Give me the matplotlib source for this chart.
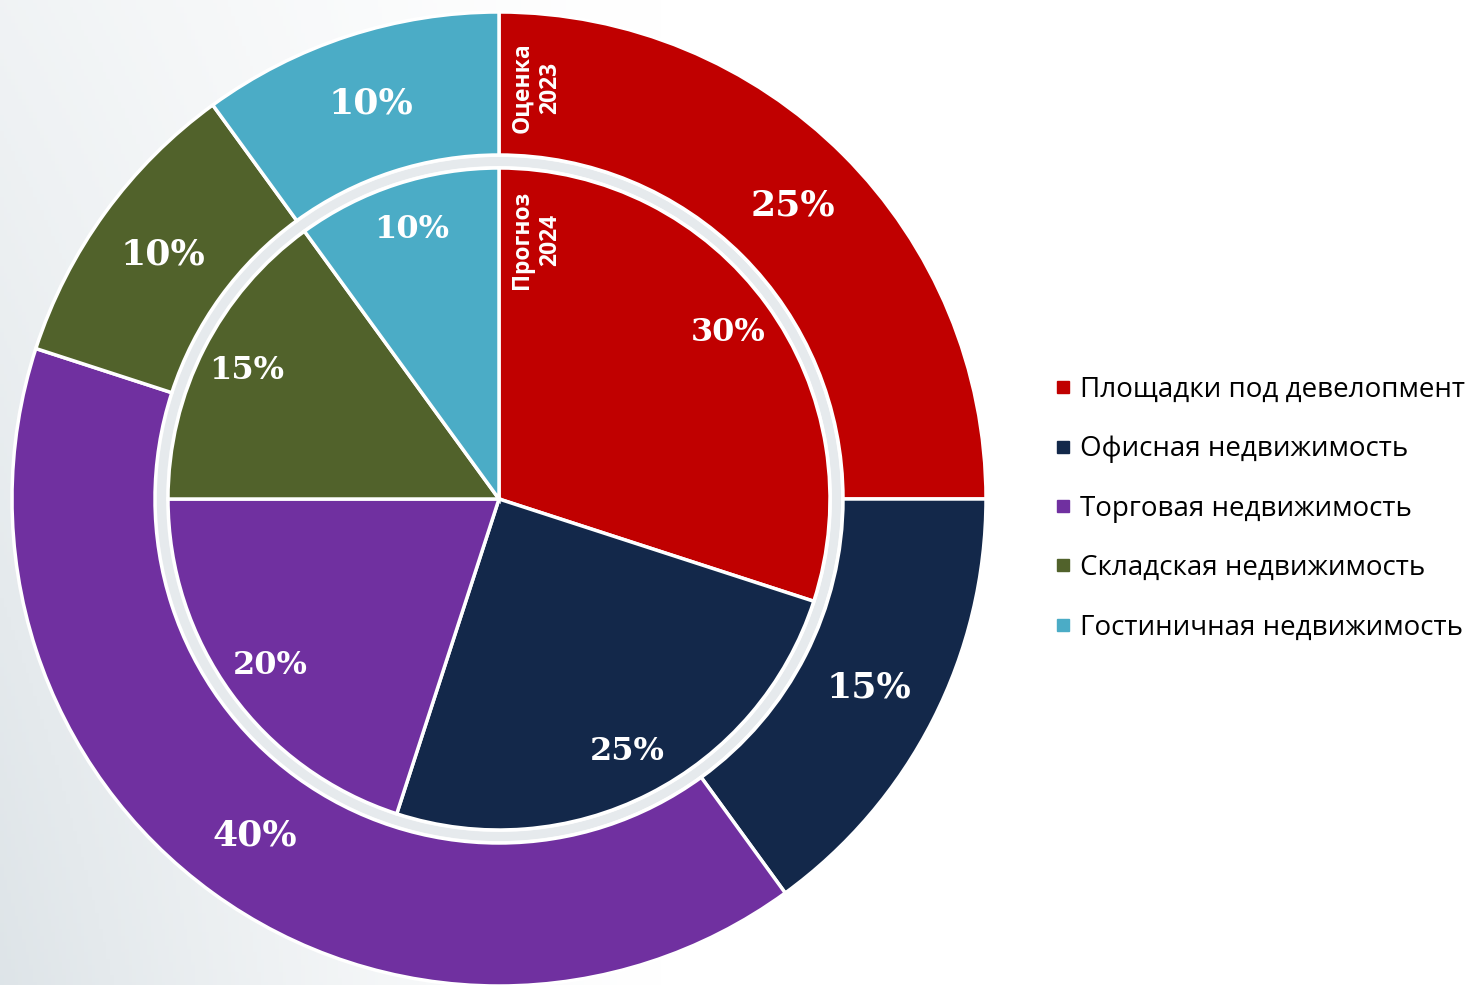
import numpy as np
from matplotlib import pyplot as plt
from matplotlib.lines import Line2D
from matplotlib.patches import Wedge

categories = ['Площадки под девелопмент', 'Офисная недвижимость', 'Торговая недвижимость',
              'Складская недвижимость', 'Гостиничная недвижимость']
colors = ['#C00000', '#13284A', '#7030A0', '#51622B', '#4BACC6']
outer_2023 = [25, 15, 40, 10, 10]   # Оценка 2023
inner_2024 = [30, 25, 20, 15, 10]   # Прогноз 2024

W, H = 1469, 985
fig = plt.figure(figsize=(W / 100, H / 100), dpi=100)

# background: light grey on the left fading to white
bg = fig.add_axes([0, 0, 1, 1], zorder=-10)
xx, yy = np.meshgrid(np.linspace(0, 1, 400), np.linspace(0, 1, 300))
shade = np.clip(1 - xx / 0.45, 0, 1) ** 1.3 * (1.0 - 0.55 * yy)
img = np.empty(xx.shape + (3,))
base = np.array([0.87, 0.895, 0.91])
for k in range(3):
    img[..., k] = 1 - shade * (1 - base[k])
bg.imshow(img, aspect='auto', extent=[0, 1, 0, 1], origin='lower')
bg.set_xlim(0, 1)
bg.set_ylim(0, 1)
bg.axis('off')

# pie axes: center (499, 499 from top), radius 487 px
cx, cy, R = 499, H - 499, 487
ax = fig.add_axes([(cx - R) / W, (cy - R) / H, 2 * R / W, 2 * R / H])

ring_in = 344 / R
pie_r = 331 / R

# thin grey band between the two rings
ax.add_patch(Wedge((0, 0), ring_in - 0.004, 0, 360, width=ring_in - pie_r - 0.008,
                   facecolor='#e6eaed', edgecolor='none', zorder=0))

w1, t1, a1 = ax.pie(outer_2023, radius=1, colors=colors, startangle=90, counterclock=False,
                    wedgeprops=dict(width=1 - ring_in, edgecolor='white', linewidth=2.5),
                    autopct='%1.0f%%', pctdistance=0.853)
w2, t2, a2 = ax.pie(inner_2024, radius=pie_r, colors=colors, startangle=90, counterclock=False,
                    wedgeprops=dict(edgecolor='white', linewidth=2.5),
                    autopct='%1.0f%%', pctdistance=0.855)
for t in a1:
    t.set(color='white', fontsize=26, fontweight='bold', family='DejaVu Serif')
for t in a2:
    t.set(color='white', fontsize=23, fontweight='bold', family='DejaVu Serif')

ax.set_xlim(-1, 1)
ax.set_ylim(-1, 1)
ax.set_aspect('equal')
ax.axis('off')

# series captions along the vertical divider
ax.text(37 / R, (499 - 88) / R, 'Оценка\n2023', rotation=90, ha='center', va='center',
        color='white', fontsize=16.5, fontweight='bold', family='Open Sans', linespacing=1.2)
ax.text(37 / R, (499 - 240) / R, 'Прогноз\n2024', rotation=90, ha='center', va='center',
        color='white', fontsize=16.5, fontweight='bold', family='Open Sans', linespacing=1.2)

handles = [Line2D([], [], marker='s', linestyle='', color=c, markersize=9) for c in colors]
fig.legend(handles, categories, loc='upper left', bbox_to_anchor=(1056 / W, 1 - 376 / H),
           frameon=False, prop=dict(family='Open Sans', size=20), handlelength=0.5,
           handletextpad=0.35, labelspacing=1.13, borderpad=0, borderaxespad=0)

fig.savefig('out.png', dpi=100)
